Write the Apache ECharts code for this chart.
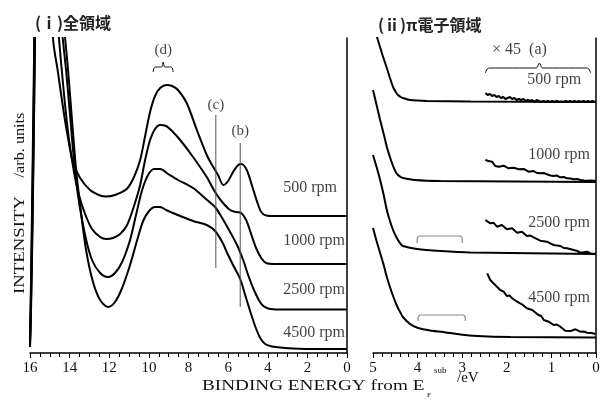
<!DOCTYPE html>
<html><head><meta charset="utf-8">
<script src="https://cdn.jsdelivr.net/npm/echarts/dist/echarts.min.js"></script>
<style>html,body{margin:0;padding:0;background:#fff}#c{width:603px;height:401px}</style>
</head><body><div id="c"></div>
<script>
// ---------- data (binding energy eV, intensity arb. units) ----------
const rpmLabels = ['500 rpm', '1000 rpm', '2500 rpm', '4500 rpm'];
const fullTicks = ['16', '14', '12', '10', '8', '6', '4', '2', '0'];
const piTicks = ['5', '4', '3', '2', '1', '0'];

const full500 = [[16.00,12],[15.95,70],[15.88,170],[15.80,290],[15.72,420],[15.55,600],[15.20,650],[14.95,420],[14.84,315],[14.59,281],[14.33,245],[14.08,215],[13.83,191],[13.47,175],[12.97,163],[12.46,157.5],[12.16,156.5],[11.71,158],[11.12,164],[10.75,176],[10.44,193],[10.19,217],[9.94,241],[9.69,257],[9.43,265],[9.10,268],[8.83,267],[8.53,263],[8.09,250],[7.58,223],[7.08,198],[6.81,188],[6.51,178],[6.24,168],[6.00,172],[5.75,181],[5.49,188],[5.34,189],[5.06,183],[4.79,167],[4.55,152],[4.33,141],[4.08,137.5],[3.63,137],[2.0,137],[0,137]];
const full1000 = [[16.00,10],[15.95,60],[15.88,150],[15.80,270],[15.72,400],[15.55,600],[15.20,650],[14.90,400],[14.54,315],[14.28,258],[14.03,213],[13.78,181],[13.53,158],[13.22,139],[12.87,124],[12.46,116],[12.16,114],[11.81,115],[11.45,119],[11.10,128],[10.75,147],[10.44,168],[10.19,193],[9.94,213],[9.69,224],[9.43,228],[9.13,227],[8.83,222],[8.42,213],[7.77,196],[7.08,176],[6.66,161],[6.30,151],[5.90,143],[5.60,141],[5.34,140],[5.09,133],[4.84,119],[4.59,105],[4.33,95],[4.08,90],[3.63,89],[2.0,89],[0,89]];
const full2500 = [[16.00,8],[15.95,50],[15.87,140],[15.78,270],[15.70,400],[15.55,600],[15.20,650],[14.85,420],[14.35,315],[14.18,283],[13.98,238],[13.78,193],[13.58,158],[13.22,118],[12.87,93],[12.46,80],[12.06,76],[11.71,80],[11.35,91],[10.95,113],[10.65,138],[10.34,163],[10.04,178],[9.74,184],[9.43,184],[9.03,179],[8.53,173],[7.77,165],[7.06,153],[6.66,146],[6.30,135],[5.90,121],[5.55,108],[5.24,93],[4.99,78],[4.74,65],[4.48,54],[4.28,48],[3.98,44.5],[3.37,43.5],[2.0,43.5],[0,43.5]];
const full4500 = [[16.00,6],[15.95,40],[15.87,130],[15.78,260],[15.70,400],[15.55,600],[15.20,650],[14.80,420],[14.23,315],[14.08,283],[13.88,233],[13.68,185],[13.47,148],[13.17,103],[12.82,71],[12.46,53],[12.06,46],[11.71,51],[11.35,65],[10.95,88],[10.59,113],[10.29,132],[9.99,142],[9.69,146],[9.43,146],[9.13,143],[8.78,140],[8.42,137],[7.77,132],[7.08,128],[6.66,122],[6.30,111],[6.00,98],[5.70,86],[5.39,74],[5.14,58],[4.89,42],[4.64,27],[4.38,15],[4.13,9],[3.78,6.5],[3.12,5],[1.86,4],[0,4]];

const pi500 = [[5.00,330],[4.89,313],[4.78,297],[4.69,285],[4.62,275],[4.55,266],[4.49,261],[4.44,258],[4.38,256],[4.33,255],[4.17,253],[3.79,252],[2.82,251.5],[0,251]];
const pi1000 = [[5.00,263],[4.92,248],[4.84,233],[4.76,219],[4.69,206],[4.62,196],[4.55,187],[4.49,181],[4.44,178],[4.38,176],[4.33,175],[4.06,173],[3.49,172],[0,171]];
const pi2500 = [[5.00,198],[4.92,186],[4.84,173],[4.76,158],[4.69,143],[4.62,132],[4.55,123],[4.49,117],[4.44,113],[4.38,109],[4.33,107],[4.01,104],[3.49,102],[2.82,100.5],[0,99]];
const pi4500 = [[5.00,125],[4.92,112],[4.84,100],[4.76,88],[4.69,76],[4.62,66],[4.55,57],[4.49,50],[4.44,45],[4.38,40],[4.33,36],[4.17,29],[3.99,25],[3.72,22.5],[3.43,21],[3.04,18.5],[2.66,17],[1.92,16],[0,15.5]];

// x45 magnified traces
const amp500 = [[2.48,260],[2.43,258],[2.38,259],[2.33,257],[2.28,258],[2.23,256],[2.18,257],[2.13,255],[2.08,256],[2.03,254],[1.98,255],[1.93,256],[1.88,254],[1.83,255],[1.78,253],[1.73,254],[1.68,253],[1.63,254],[1.58,252],[1.53,253],[1.48,252],[1.43,253],[1.38,251],[1.33,253],[1.28,252],[1.23,251],[1.18,252],[1.13,251],[1.08,252],[1.03,251],[0.98,252],[0.93,251],[0.88,252],[0.83,251],[0.78,251.5],[0.73,251],[0.68,252],[0.63,251],[0.58,252],[0.53,251],[0.48,252],[0.43,251],[0.38,252],[0.33,251],[0.28,252],[0.23,251],[0.18,252],[0.13,251],[0.08,252],[0.03,251],[0,251.5]];
const amp1000 = [[2.48,193],[2.41,192],[2.33,191.3],[2.26,187],[2.18,186.3],[2.07,187.3],[1.96,184.7],[1.85,185.3],[1.73,183.7],[1.62,184],[1.51,181.3],[1.40,182],[1.32,180],[1.25,179.7],[1.17,180],[1.10,178.7],[1.02,177.5],[0.95,177],[0.88,177.5],[0.80,175.7],[0.72,176],[0.65,174.7],[0.57,174.5],[0.50,173.7],[0.42,174],[0.35,173],[0.27,172.5],[0.20,172.3],[0.10,172.5],[0,172]];
const amp2500 = [[2.48,133],[2.37,129.7],[2.30,130.3],[2.22,126.3],[2.11,128],[2.00,123.7],[1.88,124.7],[1.77,120.3],[1.66,121.3],[1.55,117],[1.47,117.5],[1.40,115.7],[1.25,112.3],[1.10,111.3],[1.02,109.5],[0.95,108],[0.80,107],[0.72,105],[0.65,104.7],[0.50,103],[0.42,102],[0.35,100.3],[0.20,101.3],[0.12,99.5],[0.05,99],[0,99.5]];
const amp4500 = [[2.44,79.7],[2.37,73],[2.30,69.7],[2.22,66.3],[2.15,63],[2.07,61.3],[2.00,57],[1.94,57.5],[1.88,54.7],[1.77,51.3],[1.66,48.7],[1.55,44.7],[1.43,43],[1.40,41.3],[1.29,38],[1.23,37],[1.17,33],[1.06,31.3],[0.95,28],[0.88,28.5],[0.80,26.3],[0.69,22.3],[0.57,22],[0.46,23.7],[0.35,21.3],[0.27,21.5],[0.20,20.3],[0.10,20],[0.01,19]];

// annotation geometry (data units)
const markC = [[6.62,85],[6.62,238]];
const markB = [[5.39,46],[5.39,210]];
const braceD = [[9.79,281],[9.74,285],[9.66,286],[9.36,286],[9.28,291],[9.20,286],[8.90,286],[8.82,285],[8.78,281]];
const braceA = [[2.48,280],[2.44,284],[2.38,285],[1.34,285],[1.27,290],[1.20,285],[0.22,285],[0.16,284],[0.12,280]];
const bracket3 = [[4.01,110],[4.01,114],[3.96,117],[3.05,117],[3.00,114],[3.00,110]];
const bracket4 = [[3.99,32],[3.99,35],[3.94,38],[2.98,38],[2.93,35],[2.93,32]];
const fullNotes = [[3.22,165,rpmLabels[0]],[3.22,112,rpmLabels[1]],[3.22,63,rpmLabels[2]],[3.22,20,rpmLabels[3]]];
const fullMarks = [[9.28,303,'(d)'],[6.62,248,'(c)'],[5.39,222,'(b)']];
const piNotes = [[1.54,273,rpmLabels[0]],[1.52,198,rpmLabels[1]],[1.52,130,rpmLabels[2]],[1.52,55,rpmLabels[3]]];
const piMark = [[2.33,303,'× 45  (a)']];

// ---------- chart ----------
const serif = '"Liberation Serif", "DejaVu Serif", serif';
const chart = echarts.init(document.getElementById('c'), null, {renderer: 'canvas'});

function xAx(grid, max, interval, split, ticks) {
  return {
    gridIndex: grid, type: 'value', min: 0, max: max, interval: interval, inverse: true,
    axisLine: {lineStyle: {color: '#000', width: 1.5}},
    axisTick: {show: true, length: 5, lineStyle: {color: '#000', width: 1}},
    minorTick: {show: true, splitNumber: split, length: 4, lineStyle: {color: '#000', width: 1}},
    splitLine: {show: false},
    axisLabel: {color: '#111', fontFamily: serif, fontSize: 15, margin: 8,
      formatter: v => ticks.indexOf(String(v)) >= 0 ? String(v) : ''}
  };
}
function yAx(grid) {
  return {gridIndex: grid, type: 'value', min: 0, max: 315,
    axisLine: {show: true, lineStyle: {color: '#000', width: 1.5}},
    axisTick: {show: false}, axisLabel: {show: false}, splitLine: {show: false}};
}
function curve(idx, data, w, smooth) {
  return {type: 'line', xAxisIndex: idx, yAxisIndex: idx, data: data, symbol: 'none',
    smooth: smooth, clip: true, silent: true, animation: false,
    lineStyle: {color: '#000', width: w}};
}
function deco(idx, data, color, w, smooth) {
  return {type: 'line', xAxisIndex: idx, yAxisIndex: idx, data: data, symbol: 'none',
    smooth: smooth, clip: false, silent: true, animation: false,
    lineStyle: {color: color, width: w}};
}
function notes(idx, data, align, size) {
  return {type: 'scatter', xAxisIndex: idx, yAxisIndex: idx, data: data, symbolSize: 0,
    silent: true, animation: false, clip: false,
    label: {show: true, position: [0, 0], align: align, verticalAlign: 'middle',
      formatter: p => p.data[2], color: '#111', fontFamily: serif, fontSize: size}};
}
function txt(x, y, s, size, extra) {
  return Object.assign({type: 'text', x: x, y: y, silent: true,
    style: {text: s, fill: '#111', fontSize: size, fontFamily: serif, align: 'left', verticalAlign: 'middle'}}, extra || {});
}

const option = {
  backgroundColor: '#fff',
  animation: false,
  grid: [{left: 30, top: 38, width: 317, height: 315}, {left: 373, top: 38, width: 223, height: 315}],
  xAxis: [xAx(0, 16, 2, 4, fullTicks), xAx(1, 5, 1, 5, piTicks)],
  yAxis: [yAx(0), yAx(1)],
  series: [
    curve(0, full500, 2, 0.3), curve(0, full1000, 2, 0.3), curve(0, full2500, 2, 0.3), curve(0, full4500, 2, 0.3),
    curve(1, pi500, 2, 0.2), curve(1, pi1000, 2, 0.2), curve(1, pi2500, 2, 0.2), curve(1, pi4500, 2, 0.2),
    curve(1, amp500, 2, false), curve(1, amp1000, 2, false), curve(1, amp2500, 2, false), curve(1, amp4500, 2, false),
    deco(0, markC, '#555', 1, false), deco(0, markB, '#555', 1, false),
    deco(0, braceD, '#111', 1, 0.3), deco(1, braceA, '#111', 1, 0.3),
    deco(1, bracket3, '#888', 1.2, 0.3), deco(1, bracket4, '#888', 1.2, 0.3),
    notes(0, fullNotes, 'left', 16), notes(0, fullMarks, 'center', 15),
    notes(1, piNotes, 'left', 16), notes(1, piMark, 'left', 16)
  ],
  graphic: [
    {type: 'text', x: 35, y: 23, silent: true, style: {text: '(ⅰ)全領域', fill: '#222', fontSize: 16, fontWeight: 'bold',
      fontFamily: '"Noto Sans CJK JP", sans-serif', align: 'left', verticalAlign: 'middle'}},
    {type: 'text', x: 378, y: 25, silent: true, style: {text: '(ⅱ)π電子領域', fill: '#222', fontSize: 16, fontWeight: 'bold',
      fontFamily: '"Noto Sans CJK JP", sans-serif', align: 'left', verticalAlign: 'middle'}},
    txt(20, 245, 'INTENSITY', 15, {rotation: Math.PI / 2, scaleX: 1.25, style: {text: 'INTENSITY', fill: '#111', fontSize: 15,
      fontFamily: serif, align: 'center', verticalAlign: 'middle'}}),
    txt(20, 145, '/arb. units', 15, {rotation: Math.PI / 2, scaleX: 1.08, style: {text: '/arb. units', fill: '#111', fontSize: 15,
      fontFamily: serif, align: 'center', verticalAlign: 'middle'}}),
    txt(202, 386, 'BINDING ENERGY from E', 15, {scaleX: 1.28}),
    txt(427, 395, 'F', 7),
    txt(434, 371, 'sub', 9),
    txt(457, 378, '/eV', 15)
  ]
};
chart.setOption(option);
</script></body></html>
